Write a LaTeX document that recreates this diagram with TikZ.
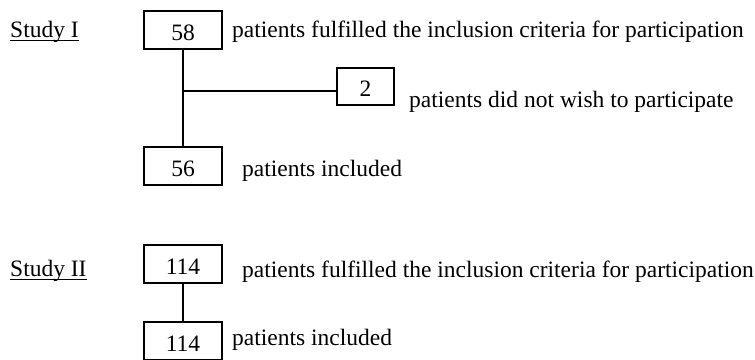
\documentclass[tikz,border=0pt]{standalone}
\usepackage{fontspec}
\setmainfont{Liberation Serif}
\tikzstyle{box}=[draw, line width=1.2pt, minimum width=78pt, minimum height=38pt, inner sep=0pt, text height=20pt, text depth=0pt]
\tikzstyle{smallbox}=[box, minimum width=57pt, minimum height=37pt]
\tikzstyle{txt}=[anchor=base west, inner sep=0pt]
\tikzstyle{link}=[line width=1.4pt]
\newcommand{\studyname}[1]{\setbox0\hbox{#1}\rlap{\rule[-0.18em]{\wd0}{0.065em}}#1}

\begin{document}
\begin{tikzpicture}[x=1pt,y=-1pt,font=\fontsize{23.5}{27}\selectfont]
  \useasboundingbox (0,0) rectangle (755,359);

  %% Study I
  \draw (10,37) node[txt] (studyI) {\studyname{Study I}};
  \draw (183,30) node[box] (N58) {58};
  \draw (365.5,86.5) node[smallbox] (N2) {2};
  \draw (183,166) node[box] (N56) {56};
  \coordinate (split) at (183,91);

  \draw (232,37) node[txt] (fulfilledI) {patients fulfilled the inclusion criteria for participation};
  \draw (409,107) node[txt] (declined) {patients did not wish to participate};
  \draw (242,176) node[txt] (includedI) {patients included};

  \draw[link] (N58) -- (N56);
  \draw[link] (split) -- (split -| N2.west);

  %% Study II
  \draw (10,276) node[txt] (studyII) {\studyname{Study II}};
  \draw (183,264) node[box] (N114a) {114};
  \draw (183,341) node[box] (N114b) {114};

  \draw (242,277) node[txt] (fulfilledII) {patients fulfilled the inclusion criteria for participation};
  \draw (232,345) node[txt] (includedII) {patients included};

  \draw[link] (N114a) -- (N114b);
\end{tikzpicture}
\end{document}
